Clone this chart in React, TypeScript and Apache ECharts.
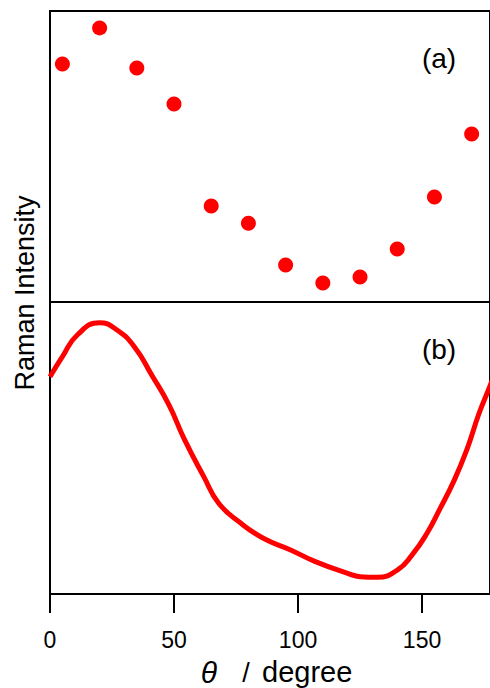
import React, { useEffect, useRef } from "react";
import * as echarts from "echarts";

const anglesA = [5, 20, 35, 50, 65, 80, 95, 110, 125, 140, 155, 170];
const intensityA = [81.8, 94.2, 80.4, 68.0, 33.0, 27.1, 12.7, 6.5, 8.6, 18.2, 36.1, 57.7];

const anglesB = [0, 5, 11, 20, 27, 34, 41, 48, 54, 62, 68, 77, 86, 97, 107, 120, 125, 132, 140, 146, 152, 157, 163, 168, 173, 177, 180];
const intensityB = [74.4, 81.3, 88.7, 92.9, 90.4, 84.7, 75.0, 64.7, 53.3, 40.2, 31.1, 24.2, 19.1, 15.1, 11.1, 7.1, 5.9, 5.7, 8.2, 13.4, 20.8, 28.8, 39.0, 49.3, 61.9, 70.4, 77.0];

const xTicks = [0, 50, 100, 150];
const X_MAX = 177.4;

const FONT = "Liberation Sans";

export default function App() {
  const ref = useRef<HTMLDivElement>(null);
  useEffect(() => {
    document.body.style.margin = "0";
    const chart = echarts.init(ref.current!, null, { renderer: "svg" });
    const border = { show: true, borderColor: "#000", borderWidth: 2, backgroundColor: "transparent" };
    chart.setOption({
      animation: false,
      textStyle: { fontFamily: FONT },
      grid: [
        { left: 50, top: 11, right: 0, height: 291, ...border },
        { left: 50, top: 302, right: 0, height: 292, ...border },
      ],
      xAxis: [
        { gridIndex: 0, type: "value", min: 0, max: X_MAX, show: false },
        {
          gridIndex: 1,
          type: "value",
          min: 0,
          max: X_MAX,
          interval: 50,
          axisLine: { show: true, lineStyle: { color: "#000", width: 2 } },
          axisTick: { show: true, inside: false, length: 19, lineStyle: { color: "#000", width: 2 } },
          splitLine: { show: false },
          axisLabel: {
            margin: 36,
            fontSize: 23,
            lineHeight: 20,
            color: "#000",
            fontFamily: FONT,
            showMaxLabel: false,
            formatter: (v: number) => (xTicks.includes(v) ? String(v) : ""),
          },
        },
      ],
      yAxis: [
        { gridIndex: 0, type: "value", min: 0, max: 100, show: false },
        { gridIndex: 1, type: "value", min: 0, max: 100, show: false },
      ],
      graphic: [
        {
          type: "text",
          x: 25,
          y: 293,
          rotation: Math.PI / 2,
          style: { text: "Raman Intensity", fontSize: 27, fontFamily: FONT, fill: "#000", align: "center", verticalAlign: "middle" },
        },
        {
          type: "text",
          x: 439,
          y: 58,
          style: { text: "(a)", fontSize: 28, fontFamily: FONT, fill: "#000", align: "center", verticalAlign: "middle" },
        },
        {
          type: "text",
          x: 439,
          y: 349,
          style: { text: "(b)", fontSize: 28, fontFamily: FONT, fill: "#000", align: "center", verticalAlign: "middle" },
        },
        {
          type: "text",
          x: 209,
          y: 672,
          style: { text: "θ", fontSize: 30, fontStyle: "italic", fontFamily: FONT, fill: "#000", align: "center", verticalAlign: "middle" },
        },
        {
          type: "text",
          x: 246,
          y: 673,
          style: { text: "/", fontSize: 27, fontFamily: FONT, fill: "#000", align: "center", verticalAlign: "middle" },
        },
        {
          type: "text",
          x: 262,
          y: 672,
          style: { text: "degree", fontSize: 29, fontFamily: FONT, fill: "#000", align: "left", verticalAlign: "middle" },
        },
      ],
      series: [
        {
          type: "scatter",
          xAxisIndex: 0,
          yAxisIndex: 0,
          symbolSize: 15,
          itemStyle: { color: "#ff0000", opacity: 1 },
          data: anglesA.map((a, i) => [a, intensityA[i]]),
        },
        {
          type: "line",
          xAxisIndex: 1,
          yAxisIndex: 1,
          smooth: 0.5,
          showSymbol: false,
          lineStyle: { color: "#ff0000", width: 5 },
          data: anglesB.map((a, i) => [a, intensityB[i]]),
        },
      ],
    });
    return () => chart.dispose();
  }, []);
  return <div ref={ref} style={{ width: 490, height: 688 }} />;
}
